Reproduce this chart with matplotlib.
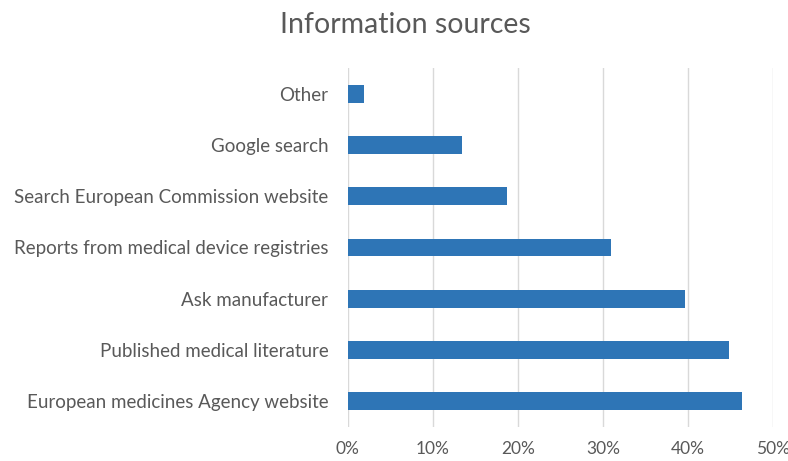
import matplotlib
matplotlib.use("Agg")
import matplotlib.pyplot as plt
from matplotlib.ticker import PercentFormatter

# survey answers, bottom to top as drawn
fuentes = [
    "European medicines Agency website",
    "Published medical literature",
    "Ask manufacturer",
    "Reports from medical device registries",
    "Search European Commission website",
    "Google search",
    "Other",
]
porcentajes = [46.3, 44.8, 39.6, 30.9, 18.7, 13.4, 1.9]
ticks_x = [0, 10, 20, 30, 40, 50]

COLOR_BARRA = "#2E75B6"
COLOR_TEXTO = "#595959"
COLOR_GRID = "#D9D9D9"

plt.rcParams['font.family'] = ['Lato', 'DejaVu Sans']

fig = plt.figure(figsize=(7.88, 4.61), dpi=100)
ax = fig.add_axes([0.4413, 0.0738, 0.54, 0.7787])

pos = list(range(len(fuentes)))
ax.barh(pos, porcentajes, height=0.35, color=COLOR_BARRA, zorder=3)

ax.set_xlim(0, 50)
ax.set_ylim(-0.5, len(fuentes) - 0.5)
ax.set_xticks(ticks_x)
ax.xaxis.set_major_formatter(PercentFormatter(decimals=0))
ax.set_yticks(pos)
ax.set_yticklabels(fuentes)

ax.grid(axis='x', color=COLOR_GRID, linewidth=1, zorder=0)
for lado in ['top', 'right', 'bottom', 'left']:
    ax.spines[lado].set_visible(False)
ax.tick_params(axis='both', length=0, colors=COLOR_TEXTO)
ax.tick_params(axis='x', pad=10, labelsize=12.5)
ax.tick_params(axis='y', pad=14, labelsize=13.5)

fig.text(0.514, 0.975, "Information sources", ha='center', va='top',
         fontsize=20.5, color=COLOR_TEXTO)

fig.savefig("out.png", dpi=100)
plt.close(fig)
